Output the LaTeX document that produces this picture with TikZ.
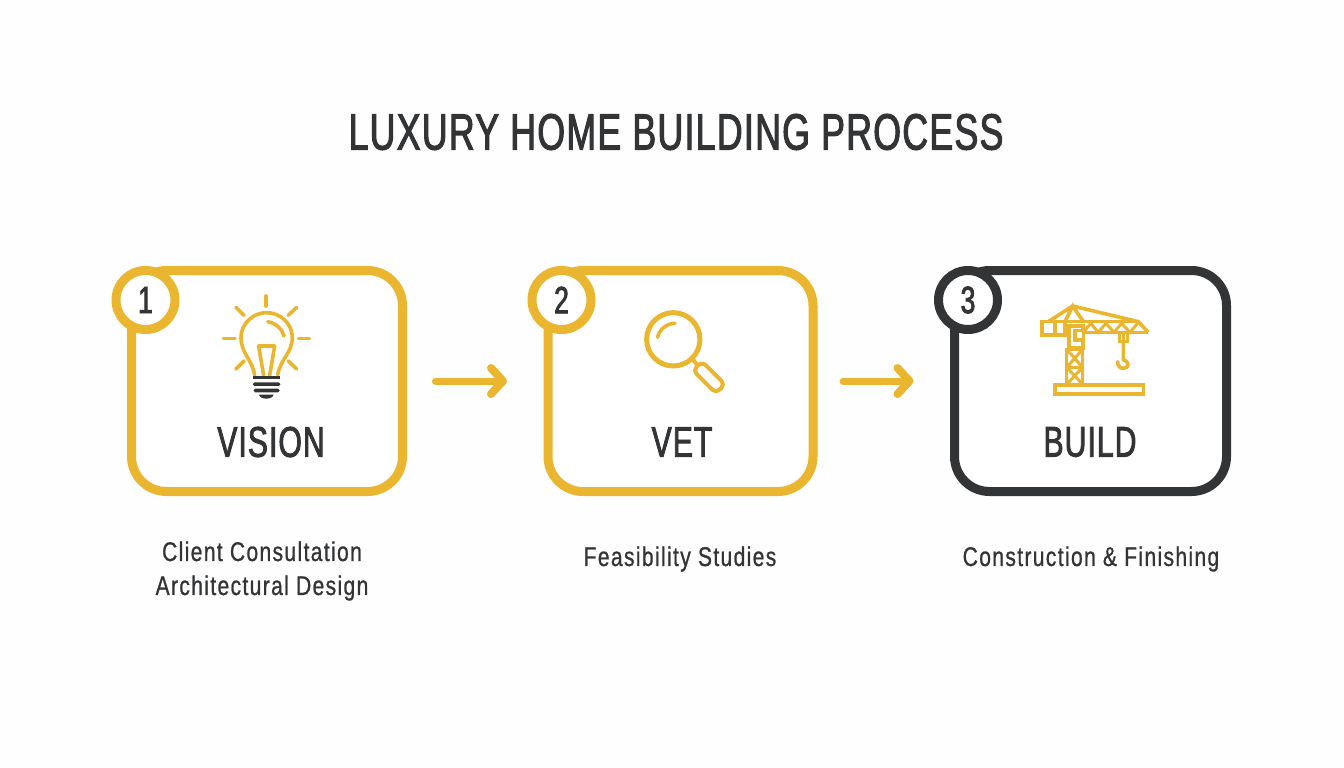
\documentclass[tikz,border=0pt]{standalone}
\usepackage{fontspec}
\setmainfont[FakeStretch=0.70,FakeBold=2,LetterSpace=2.5]{Liberation Sans}
\newfontfamily\subfont[FakeStretch=0.78,FakeBold=0.8,LetterSpace=5]{Liberation Sans}
\usetikzlibrary{arrows.meta}
\definecolor{gold}{HTML}{EBB62F}
\definecolor{ink}{HTML}{333436}
\definecolor{paper}{HTML}{FEFEFE}
\tikzset{
  x=1pt,y=-1pt,
  card/.style={draw=#1,line width=9pt,rounded corners=35pt,fill=white,minimum width=272pt,minimum height=221pt,inner sep=0pt,outer sep=0pt},
  badge/.style={draw=#1,line width=9pt,circle,fill=white,minimum size=59pt,inner sep=0pt,text=ink,font=\fontsize{38}{38}\selectfont},
  cardtitle/.style={text=ink,font=\fontsize{43}{43}\selectfont,inner sep=0pt},
  sub/.style={text=ink,font=\subfont\fontsize{27}{34}\selectfont,align=center,inner sep=0pt},
  flow/.style={draw=gold,line width=7pt,line cap=round,-{Straight Barb[length=12pt,width=26pt,round,line width=8pt]}},
  ico/.style={draw=gold,line width=3.6pt,line cap=round,line join=round},
  ray/.style={draw=gold,line width=3.6pt,line cap=round},
  thin/.style={draw=gold,line width=3pt,line join=miter},
}
\begin{document}
\begin{tikzpicture}
\useasboundingbox[fill=paper] (0,0) rectangle (1344,768);
\node[text=ink,font=\fontsize{51}{51}\selectfont,inner sep=0pt] (title) at (676,132) {LUXURY HOME BUILDING PROCESS};

\node[card=gold,minimum width=271pt] (c1) at (267,381) {};
\node[card=gold,minimum width=265pt] (c2) at (680.5,381) {};
\node[card=ink,minimum width=272pt] (c3) at (1090.5,381) {};
\node[badge=gold] (b1) at (145.5,300) {1};
\node[badge=gold] (b2) at (561.5,300) {2};
\node[badge=ink] (b3) at (968,300) {3};

\node[cardtitle] (t1) at (271,442) {VISION};
\node[cardtitle] (t2) at (682,442) {VET};
\node[cardtitle] (t3) at (1090,442) {BUILD};

\node[sub] (s1) at (262,571) {Client Consultation\\Architectural Design};
\node[sub] (s2) at (680,559) {Feasibility Studies};
\node[sub] (s3) at (1091,559) {Construction \& Finishing};

\draw[flow,shorten <=33pt,shorten >=41pt] (c1) -- (c2);
\draw[flow,shorten <=30pt,shorten >=41pt] (c2) -- (c3);

% bulb
\begin{scope}[shift={(100,250)},x=0.3333pt,y=-0.3333pt]
  \foreach \a/\b/\c/\d in {498/138/498/168,408/172/432/196,590/172/565/196,370/265/405/265,595/265/628/265,408/357/432/333,590/357/565/333}
    \draw[ray] (\a,\b) -- (\c,\d);
  \draw[ico] (464,375) .. controls (455,325) and (423,310) .. (423,262) .. controls (423,220) and (460,188) .. (500,188) .. controls (540,188) and (577,220) .. (577,262) .. controls (577,310) and (542,325) .. (533,375);
  \draw[ico] (491,376) -- (476,288) -- (524,288) -- (509,376);
  \draw[ico] (503,215) .. controls (530,220) and (548,240) .. (552,258);
  \fill[ink] (459,378) rectangle (541,388);
  \fill[ink,rounded corners=1.5pt] (459,397) rectangle (541,408);
  \fill[ink,rounded corners=1.5pt] (461,416) rectangle (539,427);
  \fill[ink] (477,434) -- (521,434) .. controls (517,450) and (481,450) .. (477,434) -- cycle;
\end{scope}

% magnifier
\begin{scope}[shift={(420,260)},x=0.3333pt,y=-0.3333pt]
  \draw[ico,line width=5pt] (760,238) circle (80);
  \draw[ico,line width=3.6pt] (713,232) .. controls (716,210) and (740,190) .. (765,190);
  \draw[ico,line width=4pt] (817,297) -- (830,312);
  \draw[ico,line width=4pt,rounded corners=5pt] (819,331) -- (846,304) -- (915,373) -- (888,400) -- cycle;
\end{scope}

% crane
\begin{scope}[shift={(1020,290)},x=0.3333pt,y=-0.3333pt]
  \draw[thin,line width=3.4pt] (105,285) rectangle (371,312);
  \draw[thin] (140,178) rectangle (188,283);
  \draw[thin] (140,178) -- (188,232) (188,178) -- (140,232) (140,232) -- (188,283) (188,232) -- (140,283) (140,232) -- (188,232);
  \draw[thin,line width=3.6pt] (66,95) rectangle (135,135);
  \draw[thin,line width=3.6pt] (105,95) -- (105,135);
  \draw[thin,line width=3.6pt] (135,95) -- (158,48) -- (190,95) (85,95) -- (158,48) -- (355,95) -- (385,127);
  \draw[thin,line width=3.6pt] (135,95) -- (355,95) (135,125) -- (150,125);
  \draw[thin,line width=3.6pt] (190,127) -- (385,127);
  \draw[thin] (190,127) -- (212,100) -- (235,127) -- (258,100) -- (282,127) -- (305,100) -- (330,127) -- (355,97);
  \draw[thin,line width=3.8pt] (148,108) -- (190,108) -- (190,175) -- (148,175) -- cycle;
  \draw[thin,line width=3.6pt,fill=white] (165,122) rectangle (190,150);
  \draw[thin] (297,130) -- (297,155) -- (322,155) -- (322,130) (310,130) -- (310,155);
  \draw[ico,line width=3.6pt] (310,155) -- (310,210) .. controls (330,215) and (328,235) .. (310,235) .. controls (298,235) and (292,225) .. (293,215);
\end{scope}
\end{tikzpicture}
\end{document}
